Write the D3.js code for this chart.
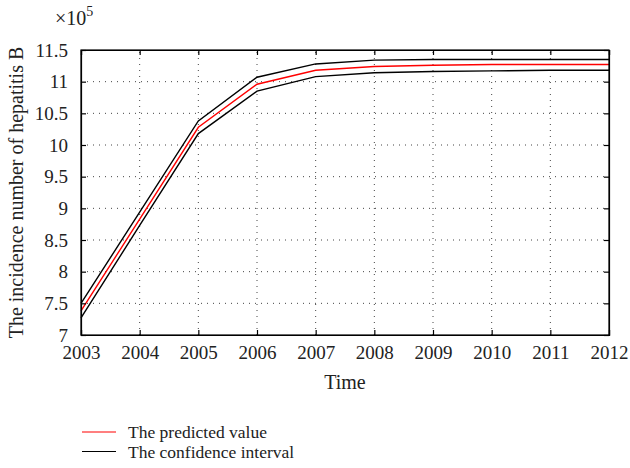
<!DOCTYPE html>
<html>
<head>
<meta charset="utf-8">
<script src="https://cdn.jsdelivr.net/npm/d3@7"></script>
<style>
	body { margin: 0; background: #fff; }
	svg { display: block; }
	.grid line { stroke: #444; stroke-dasharray: 1, 5; stroke-width: 1; }
</style>
</head>
<body>
<svg id="chart" width="630" height="468"></svg>
<script>
// data (values in units of 10^5)
const years = [2003, 2004, 2005, 2006, 2007, 2008, 2009, 2010, 2011, 2012];
const predicted = [7.38, 8.83, 10.28, 10.96, 11.18, 11.24, 11.26, 11.27, 11.27, 11.27];
const upper = [7.5, 8.94, 10.38, 11.07, 11.28, 11.34, 11.35, 11.35, 11.35, 11.35];
const lower = [7.27, 8.73, 10.18, 10.85, 11.08, 11.14, 11.16, 11.17, 11.18, 11.18];
const yTicks = [7, 7.5, 8, 8.5, 9, 9.5, 10, 10.5, 11, 11.5];
const legendLabels = ["The predicted value", "The confidence interval"];

const width = 630,
	height = 468;
const margin = { top: 50, right: 21, bottom: 133, left: 81 };
const serif = "Liberation Serif";

const svg = d3.select("#chart");

const x = d3
	.scaleLinear()
	.domain([2003, 2012])
	.range([margin.left, width - margin.right]);
const y = d3
	.scaleLinear()
	.domain([7, 11.5])
	.range([height - margin.bottom, margin.top]);

// dotted grid
const grid = svg.append("g").attr("class", "grid");
grid.selectAll(".gx")
	.data(years.slice(1, -1))
	.join("line")
	.attr("x1", (d) => x(d))
	.attr("x2", (d) => x(d))
	.attr("y1", y(7))
	.attr("y2", y(11.5));
grid.selectAll(".gy")
	.data(yTicks.slice(1, -1))
	.join("line")
	.attr("class", "gy")
	.attr("x1", x(2003))
	.attr("x2", x(2012))
	.attr("y1", (d) => y(d))
	.attr("y2", (d) => y(d));

// lines
const line = (vals) =>
	d3.line()
		.x((d, i) => x(years[i]))
		.y((d) => y(d))(vals);

svg.append("path").attr("d", line(upper)).attr("fill", "none").attr("stroke", "#000").attr("stroke-width", 1.4);
svg.append("path").attr("d", line(lower)).attr("fill", "none").attr("stroke", "#000").attr("stroke-width", 1.4);
svg.append("path").attr("d", line(predicted)).attr("fill", "none").attr("stroke", "#ff0000").attr("stroke-width", 1.4);

// axes with inward ticks on all sides
const bottomAxis = svg
	.append("g")
	.attr("transform", `translate(0,${y(7)})`)
	.call(d3.axisBottom(x).tickValues(years).tickFormat(d3.format("d")).tickSize(-5).tickPadding(11));
bottomAxis.attr("font-family", serif).attr("font-size", 19);
bottomAxis.selectAll("text").attr("fill", "#222");

svg.append("g")
	.attr("transform", `translate(0,${y(11.5)})`)
	.call(d3.axisTop(x).tickValues(years).tickFormat("").tickSize(-5));

const leftAxis = svg
	.append("g")
	.attr("transform", `translate(${x(2003)},0)`)
	.call(d3.axisLeft(y).tickValues(yTicks).tickFormat((d) => d).tickSize(-5).tickPadding(13));
leftAxis.attr("font-family", serif).attr("font-size", 19);
leftAxis.selectAll("text").attr("fill", "#222");

svg.append("g")
	.attr("transform", `translate(${x(2012)},0)`)
	.call(d3.axisRight(y).tickValues(yTicks).tickFormat("").tickSize(-5));

svg.selectAll(".domain").attr("stroke", "#000").attr("stroke-width", 1.2);
svg.selectAll(".tick line").attr("stroke", "#000").attr("stroke-width", 1.2);

// box
svg.append("rect")
	.attr("x", x(2003))
	.attr("y", y(11.5))
	.attr("width", x(2012) - x(2003))
	.attr("height", y(7) - y(11.5))
	.attr("fill", "none")
	.attr("stroke", "#000")
	.attr("stroke-width", 1.2);

// exponent label
const expo = svg.append("text")
	.attr("x", 55)
	.attr("y", 25)
	.attr("font-family", serif)
	.attr("font-size", 20)
	.attr("fill", "#222");
expo.append("tspan").text("×10");
expo.append("tspan").attr("dy", -9).attr("font-size", 14).text("5");

// axis titles
svg.append("text")
	.attr("x", (x(2003) + x(2012)) / 2)
	.attr("y", 389)
	.attr("text-anchor", "middle")
	.attr("font-family", serif)
	.attr("font-size", 20)
	.attr("fill", "#222")
	.text("Time");

svg.append("text")
	.attr("transform", `translate(23,${(y(7) + y(11.5)) / 2}) rotate(-90)`)
	.attr("text-anchor", "middle")
	.attr("font-family", serif)
	.attr("font-size", 20)
	.attr("fill", "#222")
	.text("The incidence number of hepatitis B");

// legend
const legendColors = ["#ff0000", "#000"];
const legend = svg
	.selectAll(".legend")
	.data(legendLabels)
	.join("g")
	.attr("transform", (d, i) => `translate(82,${432 + i * 19.5})`);
legend.append("line")
	.attr("x1", 0)
	.attr("x2", 34)
	.attr("stroke", (d, i) => legendColors[i])
	.attr("stroke-width", 1.2);
legend.append("text")
	.attr("x", 46)
	.attr("y", 6)
	.attr("font-family", serif)
	.attr("font-size", 17.5)
	.attr("fill", "#222")
	.text((d) => d);
</script>
</body>
</html>
